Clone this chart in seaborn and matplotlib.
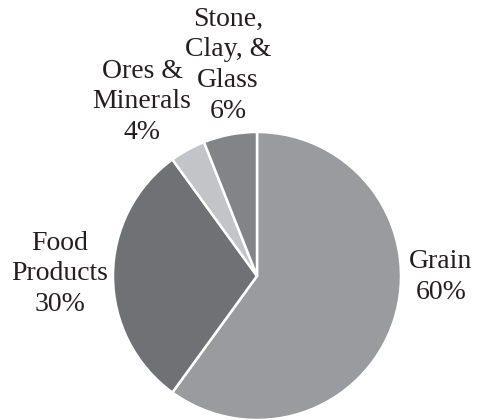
import matplotlib
matplotlib.use("Agg")
import matplotlib.pyplot as plt
import seaborn as sns

categories = ["Grain", "Food\nProducts", "Ores &\nMinerals", "Stone,\nClay, &\nGlass"]
shares = [60, 30, 4, 6]
colors = ["#9a9b9f", "#707174", "#c3c4c7", "#838488"]
label_pos = [(441, 277), (60, 274), (142, 102), (228, 65)]

sns.set_theme(style="white")
plt.rcParams["font.family"] = ["Liberation Serif", "DejaVu Serif"]

fig = plt.figure(figsize=(4.79, 4.2), dpi=100)
ax = fig.add_axes([0, 0, 1, 1])

ax.pie(shares, colors=colors, startangle=90, counterclock=False,
       center=(257, 420 - 276), radius=144,
       wedgeprops=dict(edgecolor="white", linewidth=1.8))

ax.set_xlim(0, 479)
ax.set_ylim(0, 420)
ax.set_aspect("equal")
ax.axis("off")

for cat, val, (x, y) in zip(categories, shares, label_pos):
    ax.text(x, 420 - y, f"{cat}\n{val}%", ha="center", va="center",
            multialignment="center", fontsize=20, linespacing=1.3,
            color="#231f20")

fig.savefig("out.png", dpi=100)
